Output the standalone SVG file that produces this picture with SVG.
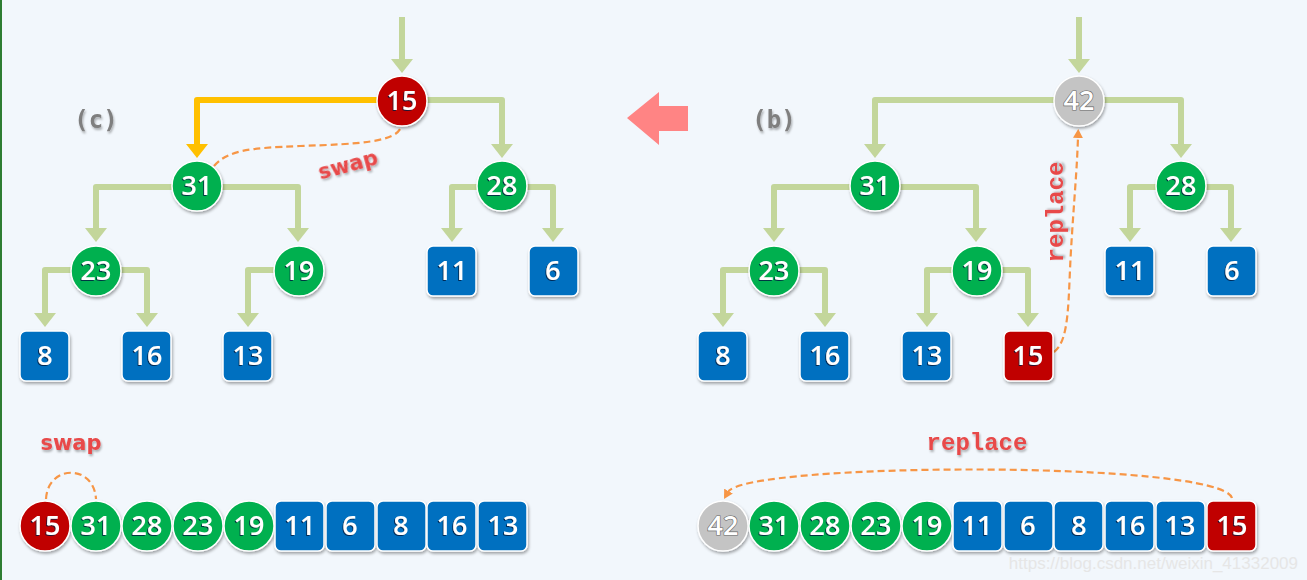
<svg xmlns="http://www.w3.org/2000/svg" width="1307" height="580" viewBox="0 0 1307 580">
<defs>
<style>
.bg{fill:#f2f7fc}
.c{stroke:#ffffff;stroke-width:1.5;filter:url(#sh)}
.g{fill:#00b050}
.b{fill:#0070c0}
.r{fill:#c00000}
.y{fill:#c4c4c4}
.t{font-family:"Open Sans","Liberation Sans",sans-serif;font-weight:600;font-size:27px;fill:#ffffff;text-anchor:middle;filter:url(#tsh)}
.ty{font-family:"Open Sans","Liberation Sans",sans-serif;font-weight:600;font-size:27px;fill:#ffffff;stroke:#666;stroke-width:1.2;paint-order:stroke;text-anchor:middle}
.ln{fill:none;stroke:#c3d69b;stroke-width:6;stroke-linejoin:round}
.hl{fill:none;stroke:#ffc000;stroke-width:6;stroke-linejoin:round}
.ds{fill:none;stroke:#f79646;stroke-width:2.2;stroke-dasharray:7 4}
.lab{font-family:"DejaVu Sans Mono","Liberation Mono",monospace;font-weight:bold;font-size:24px;fill:#7f7f7f;text-anchor:middle;filter:url(#rsh)}
.sw{font-family:"DejaVu Sans","Liberation Sans",sans-serif;font-weight:bold;font-size:21px;fill:#e84848;text-anchor:middle;filter:url(#rsh)}
.rp{font-family:"Liberation Mono","DejaVu Sans Mono",monospace;font-weight:bold;font-size:24px;fill:#e84848;text-anchor:middle;filter:url(#rsh)}
</style>
<filter id="sh" x="-30%" y="-30%" width="160%" height="160%"><feDropShadow dx="1" dy="2" stdDeviation="1.5" flood-color="#000" flood-opacity="0.35"/></filter>
<filter id="tsh" x="-30%" y="-30%" width="160%" height="160%"><feDropShadow dx="-1" dy="1" stdDeviation="0.4" flood-color="#001a40" flood-opacity="0.8"/></filter>
<filter id="rsh" x="-30%" y="-30%" width="160%" height="160%"><feDropShadow dx="1" dy="2" stdDeviation="1" flood-color="#000" flood-opacity="0.3"/></filter>
<marker id="ag" markerUnits="userSpaceOnUse" markerWidth="14" markerHeight="22" viewBox="0 0 14 22" refX="0" refY="11" orient="auto"><path d="M0,0 L14,11 L0,22 z" fill="#c3d69b"/></marker>
<marker id="ao" markerUnits="userSpaceOnUse" markerWidth="14" markerHeight="22" viewBox="0 0 14 22" refX="0" refY="11" orient="auto"><path d="M0,0 L14,11 L0,22 z" fill="#ffc000"/></marker>
<marker id="ad" markerUnits="userSpaceOnUse" markerWidth="9" markerHeight="10" viewBox="0 0 9 10" refX="1" refY="5" orient="auto"><path d="M0,0 L9,5 L0,10 z" fill="#f79646"/></marker>
</defs>
<rect class="bg" x="0" y="0" width="1307" height="580"/>
<rect x="0" y="0" width="2" height="580" fill="#2e7d32"/>

<g id="connectors">
<path class="ln" d="M402,17 V59" marker-end="url(#ag)"/>
<path class="hl" d="M402,100 H197 V144" marker-end="url(#ao)"/>
<path class="ln" d="M402,100 H502 V144" marker-end="url(#ag)"/>
<path class="ln" d="M197,187 H96 V228" marker-end="url(#ag)"/>
<path class="ln" d="M197,187 H298 V228" marker-end="url(#ag)"/>
<path class="ln" d="M502,187 H452 V228" marker-end="url(#ag)"/>
<path class="ln" d="M502,187 H553 V228" marker-end="url(#ag)"/>
<path class="ln" d="M96,270 H45 V313" marker-end="url(#ag)"/>
<path class="ln" d="M96,270 H147 V313" marker-end="url(#ag)"/>
<path class="ln" d="M298,270 H248 V313" marker-end="url(#ag)"/>

<path class="ln" d="M1079,17 V59" marker-end="url(#ag)"/>
<path class="ln" d="M1079,100 H875 V144" marker-end="url(#ag)"/>
<path class="ln" d="M1079,100 H1181 V144" marker-end="url(#ag)"/>
<path class="ln" d="M875,187 H774 V228" marker-end="url(#ag)"/>
<path class="ln" d="M875,187 H976 V228" marker-end="url(#ag)"/>
<path class="ln" d="M1181,187 H1130 V228" marker-end="url(#ag)"/>
<path class="ln" d="M1181,187 H1231 V228" marker-end="url(#ag)"/>
<path class="ln" d="M774,270 H723 V313" marker-end="url(#ag)"/>
<path class="ln" d="M774,270 H825 V313" marker-end="url(#ag)"/>
<path class="ln" d="M977,270 H927 V313" marker-end="url(#ag)"/>
<path class="ln" d="M977,270 H1028 V313" marker-end="url(#ag)"/>

<path class="ds" d="M214,166 C228,150 250,148 300,146 C360,144 396,142 401,127"/>
<path class="ds" d="M1054,352 C1070,340 1068,300 1071,250 C1074,200 1077,170 1078,137" marker-end="url(#ad)"/>
<path class="ds" d="M46,499 C48,464 94,464 96,499"/>
<path class="ds" d="M1232,498 C1220,460 745,462 728,492" marker-end="url(#ad)"/>
</g>

<g id="arrow-big"><polygon points="627,118 659,92 659,106 688,106 688,131 659,131 659,145" fill="#ff8484"/></g>

<g id="labels">
<text class="lab" x="96" y="128">(c)</text>
<text class="lab" x="774" y="128">(b)</text>
<text class="sw" x="348" y="172" transform="rotate(-15 348 165)">swap</text>
<text class="sw" x="71" y="450">swap</text>
<text class="rp" x="0" y="0" transform="translate(1063 212) rotate(-90)">replace</text>
<text class="rp" x="977" y="450">replace</text>
<text x="1298" y="569" font-family="Liberation Sans,Arial,sans-serif" font-size="17" fill="#e6e6e6" text-anchor="end">https://blog.csdn.net/weixin_41332009</text>
</g>

<g id="c-root"><circle class="c r" cx="402" cy="101" r="25"/><text class="t" x="402" y="110">15</text></g>
<g id="c-31"><circle class="c g" cx="197" cy="186" r="25"/><text class="t" x="197" y="195">31</text></g>
<g id="c-28"><circle class="c g" cx="502" cy="186" r="25"/><text class="t" x="502" y="195">28</text></g>
<g id="c-23"><circle class="c g" cx="96" cy="271" r="25"/><text class="t" x="96" y="280">23</text></g>
<g id="c-19"><circle class="c g" cx="299" cy="271" r="25"/><text class="t" x="299" y="280">19</text></g>
<g id="c-11"><rect class="c b" x="427" y="246" width="49" height="50" rx="6"/><text class="t" x="452" y="280">11</text></g>
<g id="c-6"><rect class="c b" x="529" y="246" width="49" height="50" rx="6"/><text class="t" x="553" y="280">6</text></g>
<g id="c-8"><rect class="c b" x="20" y="331" width="49" height="50" rx="6"/><text class="t" x="45" y="365">8</text></g>
<g id="c-16"><rect class="c b" x="122" y="331" width="49" height="50" rx="6"/><text class="t" x="147" y="365">16</text></g>
<g id="c-13"><rect class="c b" x="223" y="331" width="49" height="50" rx="6"/><text class="t" x="248" y="365">13</text></g>

<g id="b-root"><circle class="c y" cx="1079" cy="101" r="25"/><text class="ty" x="1079" y="110">42</text></g>
<g id="b-31"><circle class="c g" cx="875" cy="186" r="25"/><text class="t" x="875" y="195">31</text></g>
<g id="b-28"><circle class="c g" cx="1181" cy="186" r="25"/><text class="t" x="1181" y="195">28</text></g>
<g id="b-23"><circle class="c g" cx="774" cy="271" r="25"/><text class="t" x="774" y="280">23</text></g>
<g id="b-19"><circle class="c g" cx="977" cy="271" r="25"/><text class="t" x="977" y="280">19</text></g>
<g id="b-11"><rect class="c b" x="1105" y="246" width="49" height="50" rx="6"/><text class="t" x="1130" y="280">11</text></g>
<g id="b-6"><rect class="c b" x="1207" y="246" width="49" height="50" rx="6"/><text class="t" x="1232" y="280">6</text></g>
<g id="b-8"><rect class="c b" x="698" y="331" width="49" height="50" rx="6"/><text class="t" x="723" y="365">8</text></g>
<g id="b-16"><rect class="c b" x="800" y="331" width="49" height="50" rx="6"/><text class="t" x="825" y="365">16</text></g>
<g id="b-13"><rect class="c b" x="902" y="331" width="49" height="50" rx="6"/><text class="t" x="927" y="365">13</text></g>
<g id="b-15"><rect class="c r" x="1004" y="331" width="49" height="50" rx="6"/><text class="t" x="1028" y="365">15</text></g>

<g id="arr-c">
<circle class="c r" cx="45" cy="526" r="25"/><text class="t" x="45" y="535">15</text>
<circle class="c g" cx="96" cy="526" r="25"/><text class="t" x="96" y="535">31</text>
<circle class="c g" cx="147" cy="526" r="25"/><text class="t" x="147" y="535">28</text>
<circle class="c g" cx="198" cy="526" r="25"/><text class="t" x="198" y="535">23</text>
<circle class="c g" cx="249" cy="526" r="25"/><text class="t" x="249" y="535">19</text>
<rect class="c b" x="275" y="501" width="49" height="50" rx="6"/><text class="t" x="300" y="535">11</text>
<rect class="c b" x="326" y="501" width="49" height="50" rx="6"/><text class="t" x="350" y="535">6</text>
<rect class="c b" x="377" y="501" width="49" height="50" rx="6"/><text class="t" x="401" y="535">8</text>
<rect class="c b" x="427" y="501" width="49" height="50" rx="6"/><text class="t" x="452" y="535">16</text>
<rect class="c b" x="478" y="501" width="49" height="50" rx="6"/><text class="t" x="503" y="535">13</text>
</g>

<g id="arr-b">
<circle class="c y" cx="723" cy="526" r="25"/><text class="ty" x="723" y="535">42</text>
<circle class="c g" cx="774" cy="526" r="25"/><text class="t" x="774" y="535">31</text>
<circle class="c g" cx="825" cy="526" r="25"/><text class="t" x="825" y="535">28</text>
<circle class="c g" cx="876" cy="526" r="25"/><text class="t" x="876" y="535">23</text>
<circle class="c g" cx="927" cy="526" r="25"/><text class="t" x="927" y="535">19</text>
<rect class="c b" x="953" y="501" width="49" height="50" rx="6"/><text class="t" x="977" y="535">11</text>
<rect class="c b" x="1004" y="501" width="49" height="50" rx="6"/><text class="t" x="1028" y="535">6</text>
<rect class="c b" x="1054" y="501" width="49" height="50" rx="6"/><text class="t" x="1079" y="535">8</text>
<rect class="c b" x="1105" y="501" width="49" height="50" rx="6"/><text class="t" x="1130" y="535">16</text>
<rect class="c b" x="1156" y="501" width="49" height="50" rx="6"/><text class="t" x="1180" y="535">13</text>
<rect class="c r" x="1207" y="501" width="49" height="50" rx="6"/><text class="t" x="1232" y="535">15</text>
</g>
</svg>
